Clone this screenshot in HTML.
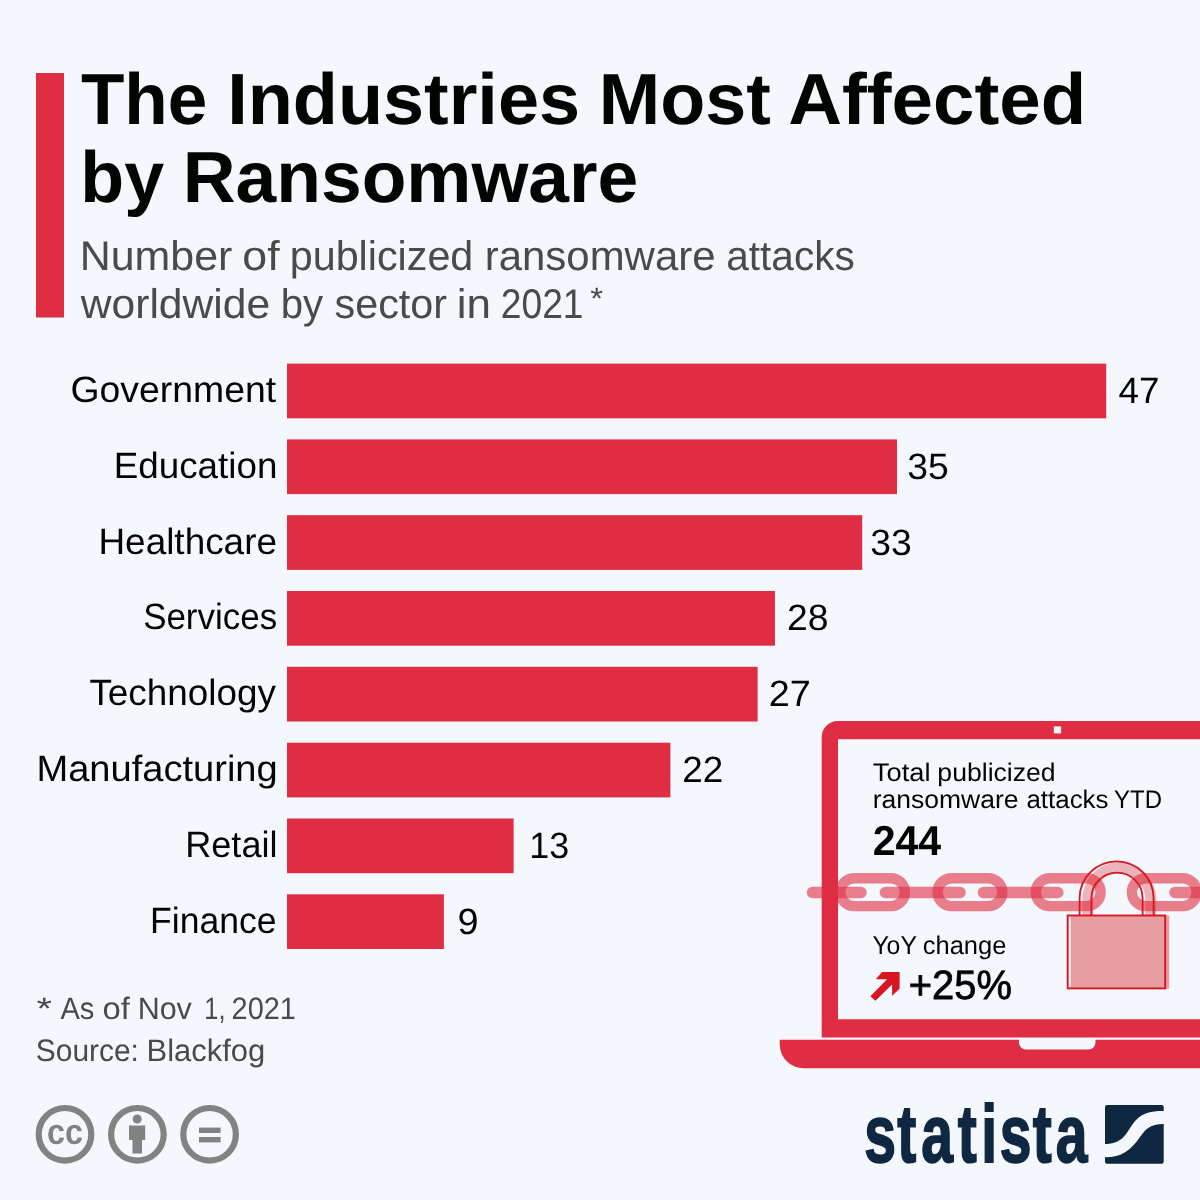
<!DOCTYPE html>
<html lang="en">
<head>
<meta charset="utf-8">
<title>The Industries Most Affected by Ransomware</title>
<style>
html,body{margin:0;padding:0;background:#f4f7fb;}
body{width:1200px;height:1200px;overflow:hidden;font-family:"Liberation Sans",sans-serif;}
svg{display:block;}
text{font-family:"Liberation Sans",sans-serif;text-rendering:geometricPrecision;}
.title{font-weight:bold;fill:#020402;}
.sub{fill:#474c4b;}
.lab{fill:#050505;}
.val{fill:#050505;}
.foot{fill:#474c4b;}
.lt{fill:#050505;}
.big{font-weight:bold;fill:#020402;}
.pct{fill:#020402;stroke:#020402;stroke-width:0.8px;}
.bar{fill:#df2d43;}
</style>
</head>
<body>
<svg width="1200" height="1200" viewBox="0 0 1200 1200">
<rect width="1200" height="1200" fill="#f4f7fb"/>

<!-- header -->
<rect x="36" y="73" width="28" height="244.5" class="bar"/>
<text class="title" font-size="72.5" y="124.0"><tspan x="80.96" textLength="126.39" lengthAdjust="spacingAndGlyphs">The</tspan> <tspan x="227.16" textLength="352.86" lengthAdjust="spacingAndGlyphs">Industries</tspan> <tspan x="598.87" textLength="172.05" lengthAdjust="spacingAndGlyphs">Most</tspan> <tspan x="788.20" textLength="298.03" lengthAdjust="spacingAndGlyphs">Affected</tspan></text>
<text class="title" font-size="72.5" y="202.0"><tspan x="80.29" textLength="83.81" lengthAdjust="spacingAndGlyphs">by</tspan> <tspan x="182.71" textLength="455.57" lengthAdjust="spacingAndGlyphs">Ransomware</tspan></text>
<text class="sub" font-size="41.5" y="269.7"><tspan x="79.68" textLength="152.65" lengthAdjust="spacingAndGlyphs">Number</tspan> <tspan x="242.32" textLength="37.25" lengthAdjust="spacingAndGlyphs">of</tspan> <tspan x="289.76" textLength="183.58" lengthAdjust="spacingAndGlyphs">publicized</tspan> <tspan x="484.72" textLength="230.84" lengthAdjust="spacingAndGlyphs">ransomware</tspan> <tspan x="726.29" textLength="128.46" lengthAdjust="spacingAndGlyphs">attacks</tspan></text>
<text class="sub" font-size="41.5" y="317.7"><tspan x="80.80" textLength="189.33" lengthAdjust="spacingAndGlyphs">worldwide</tspan> <tspan x="280.64" textLength="42.45" lengthAdjust="spacingAndGlyphs">by</tspan> <tspan x="334.56" textLength="112.51" lengthAdjust="spacingAndGlyphs">sector</tspan> <tspan x="456.79" textLength="34.23" lengthAdjust="spacingAndGlyphs">in</tspan> <tspan x="500.71" textLength="82.86" lengthAdjust="spacingAndGlyphs">2021</tspan></text>
<text class="sub" font-size="31" y="309.3"><tspan x="590.27" textLength="12.85" lengthAdjust="spacingAndGlyphs">*</tspan></text>

<!-- bars -->
<g id="bars">
<rect class="bar" x="287" y="363.6" width="819.2" height="54.7"/>
<rect class="bar" x="287" y="439.4" width="610" height="54.7"/>
<rect class="bar" x="287" y="515.2" width="575.2" height="54.7"/>
<rect class="bar" x="287" y="591.0" width="488" height="54.7"/>
<rect class="bar" x="287" y="666.8" width="470.6" height="54.7"/>
<rect class="bar" x="287" y="742.7" width="383.4" height="54.7"/>
<rect class="bar" x="287" y="818.5" width="226.6" height="54.7"/>
<rect class="bar" x="287" y="894.3" width="156.9" height="54.7"/>
</g>

<!-- category labels -->
<g id="labels">
<text class="lab" font-size="36.6" y="402.0"><tspan x="70.51" textLength="205.68" lengthAdjust="spacingAndGlyphs">Government</tspan></text>
<text class="lab" font-size="36.6" y="477.8"><tspan x="113.68" textLength="163.69" lengthAdjust="spacingAndGlyphs">Education</tspan></text>
<text class="lab" font-size="36.6" y="553.6"><tspan x="98.47" textLength="178.48" lengthAdjust="spacingAndGlyphs">Healthcare</tspan></text>
<text class="lab" font-size="36.6" y="629.4"><tspan x="143.13" textLength="133.98" lengthAdjust="spacingAndGlyphs">Services</tspan></text>
<text class="lab" font-size="36.6" y="705.2"><tspan x="89.44" textLength="186.52" lengthAdjust="spacingAndGlyphs">Technology</tspan></text>
<text class="lab" font-size="36.6" y="781.1"><tspan x="36.48" textLength="241.21" lengthAdjust="spacingAndGlyphs">Manufacturing</tspan></text>
<text class="lab" font-size="36.6" y="856.9"><tspan x="185.24" textLength="92.26" lengthAdjust="spacingAndGlyphs">Retail</tspan></text>
<text class="lab" font-size="36.6" y="932.7"><tspan x="150.08" textLength="126.51" lengthAdjust="spacingAndGlyphs">Finance</tspan></text>
</g>

<!-- values -->
<g id="values">
<text class="val" font-size="36.6" y="402.9"><tspan x="1118.55" textLength="40.90" lengthAdjust="spacingAndGlyphs">47</tspan></text>
<text class="val" font-size="36.6" y="478.7"><tspan x="907.22" textLength="41.50" lengthAdjust="spacingAndGlyphs">35</tspan></text>
<text class="val" font-size="36.6" y="554.5"><tspan x="870.22" textLength="41.50" lengthAdjust="spacingAndGlyphs">33</tspan></text>
<text class="val" font-size="36.6" y="630.3"><tspan x="786.96" textLength="41.51" lengthAdjust="spacingAndGlyphs">28</tspan></text>
<text class="val" font-size="36.6" y="706.1"><tspan x="768.69" textLength="42.06" lengthAdjust="spacingAndGlyphs">27</tspan></text>
<text class="val" font-size="36.6" y="782.0"><tspan x="682.24" textLength="41.02" lengthAdjust="spacingAndGlyphs">22</tspan></text>
<text class="val" font-size="36.6" y="857.8"><tspan x="529.31" textLength="39.85" lengthAdjust="spacingAndGlyphs">13</tspan></text>
<text class="val" font-size="36.6" y="933.6"><tspan x="457.49" textLength="21.01" lengthAdjust="spacingAndGlyphs">9</tspan></text>
</g>

<!-- footnotes -->
<text class="foot" font-size="31.0" y="1019.0"><tspan x="36.46" textLength="15.48" lengthAdjust="spacingAndGlyphs">*</tspan> <tspan x="60.40" textLength="33.91" lengthAdjust="spacingAndGlyphs">As</tspan> <tspan x="102.43" textLength="27.32" lengthAdjust="spacingAndGlyphs">of</tspan> <tspan x="137.64" textLength="54.20" lengthAdjust="spacingAndGlyphs">Nov</tspan> <tspan x="204.36" textLength="21.19" lengthAdjust="spacingAndGlyphs">1,</tspan> <tspan x="231.60" textLength="64.27" lengthAdjust="spacingAndGlyphs">2021</tspan></text>
<text class="foot" font-size="31.0" y="1060.7"><tspan x="35.85" textLength="103.09" lengthAdjust="spacingAndGlyphs">Source:</tspan> <tspan x="146.50" textLength="118.70" lengthAdjust="spacingAndGlyphs">Blackfog</tspan></text>

<!-- chain (behind laptop frame) -->
<g id="chain" fill="none" stroke="#df2d43" stroke-opacity="0.6">
<g stroke-width="11.6" stroke-linecap="round">
<line x1="812.5" y1="892.5" x2="860.9" y2="892.5"/>
<line x1="885.5" y1="892.5" x2="960" y2="892.5"/>
<line x1="983.5" y1="892.5" x2="1057.8" y2="892.5"/>
<line x1="1175" y1="892.5" x2="1215" y2="892.5"/>
</g>
<g stroke-width="10.4">
<rect x="840.2" y="878.2" width="64.7" height="27.9" rx="13.95"/>
<rect x="937.6" y="878.2" width="64.7" height="27.9" rx="13.95"/>
<rect x="1035.8" y="878.2" width="64.8" height="27.9" rx="13.95"/>
<rect x="1131.9" y="878.2" width="64.8" height="27.9" rx="13.95"/>
</g>
</g>

<!-- laptop -->
<g id="laptop" class="bar">
<path fill-rule="evenodd" d="M837.7,721.1 H1200 V1037.5 H821.7 V737.1 A16,16 0 0 1 837.7,721.1 Z M838,739.3 V1019.2 H1200 V739.3 Z"/>
<path d="M779.7,1039.7 H1019 V1042.5 A7,7 0 0 0 1026,1049.5 H1088.5 A7,7 0 0 0 1095.5,1042.5 V1039.7 H1200 V1068.3 H803.7 A24,24 0 0 1 779.7,1044.3 Z"/>
</g>
<rect x="1053.8" y="726.4" width="7.3" height="7" fill="#f4f7fb"/>

<!-- laptop text -->
<text class="lt" font-size="25.4" y="780.9"><tspan x="872.86" textLength="57.60" lengthAdjust="spacingAndGlyphs">Total</tspan> <tspan x="937.37" textLength="118.28" lengthAdjust="spacingAndGlyphs">publicized</tspan></text>
<text class="lt" font-size="25.4" y="808.0"><tspan x="872.77" textLength="145.78" lengthAdjust="spacingAndGlyphs">ransomware</tspan> <tspan x="1026.48" textLength="81.97" lengthAdjust="spacingAndGlyphs">attacks</tspan> <tspan x="1113.99" textLength="48.04" lengthAdjust="spacingAndGlyphs">YTD</tspan></text>
<text class="big" font-size="41.9" y="854.9"><tspan x="872.63" textLength="68.52" lengthAdjust="spacingAndGlyphs">244</tspan></text>
<text class="lt" font-size="25.7" y="953.8"><tspan x="872.38" textLength="44.09" lengthAdjust="spacingAndGlyphs">YoY</tspan> <tspan x="922.76" textLength="83.67" lengthAdjust="spacingAndGlyphs">change</tspan></text>
<polygon fill="#d71622" points="882.1,972.1 899.6,972.1 899.6,988.75 892.1,995.8 892.1,984.6 875.4,1000.8 870.4,996.25 887.1,979.2 875.8,979.2"/>
<text class="pct" font-size="41.0" y="999.2"><tspan x="908.75" textLength="103.12" lengthAdjust="spacingAndGlyphs">+25%</tspan></text>

<!-- padlock -->
<g id="lock">
<path fill="#d91c24" fill-opacity="0.3" d="M1082.3,916 V899.3 A37,37 0 0 1 1156.3,899.3 V916 H1145.3 V899.3 A26,26 0 0 0 1093.3,899.3 V916 Z"/>
<rect x="1070.6" y="915.5" width="98.6" height="73.2" fill="#d91c24" fill-opacity="0.41"/>
<path fill="none" stroke="#d71622" stroke-width="1.8" d="M1079.6,915.5 V898.3 A37,37 0 0 1 1153.6,898.3 V915.5 M1091.4,915.5 V898.3 A25.6,25.6 0 0 1 1142.6,898.3 V915.5"/>
<rect x="1067.7" y="915.5" width="97.5" height="72.9" fill="none" stroke="#d71622" stroke-width="1.9"/>
</g>

<!-- creative commons icons -->
<g id="cc" fill="#7f8483">
<g fill="none" stroke="#7f8483" stroke-width="6.2">
<circle cx="65" cy="1134.3" r="26.3"/>
<circle cx="137.4" cy="1134.3" r="26.3"/>
<circle cx="209.6" cy="1134.3" r="26.3"/>
</g>
<text x="47" y="1143.8" font-size="36" font-weight="bold" textLength="36" lengthAdjust="spacingAndGlyphs">cc</text>
<circle cx="137.2" cy="1119" r="4.5"/>
<path d="M129,1125.6 H145.2 V1140 H142 V1153.6 H132.5 V1140 H129 Z"/>
<rect x="199" y="1127.6" width="21.6" height="5.4"/>
<rect x="199" y="1137" width="21.6" height="5.4"/>
</g>

<!-- statista logo -->
<g id="logo" fill="#0f2741">
<text x="0" y="0" dx="0 -2.9 2.9 2.1 2.1 -0.7 -2.9 1.4" transform="translate(864.3,1162.2) scale(0.70,1)" font-size="81.5" font-weight="bold" stroke="#0f2741" stroke-width="1.8" letter-spacing="4.5">statista</text>
<path d="M1107,1105 H1161.7 A2,2 0 0 1 1163.7,1107 V1111 C1150,1111 1140,1113 1132,1125 C1126,1134 1122,1144 1105,1144 V1107 A2,2 0 0 1 1107,1105 Z"/>
<path d="M1163.7,1124 V1161.7 A2,2 0 0 1 1161.7,1163.7 H1107 A2,2 0 0 1 1105,1161.7 V1157.3 C1122,1157 1130,1151 1140,1137 C1146,1129 1150,1124 1163.7,1124 Z"/>
</g>

</svg>
</body>
</html>
